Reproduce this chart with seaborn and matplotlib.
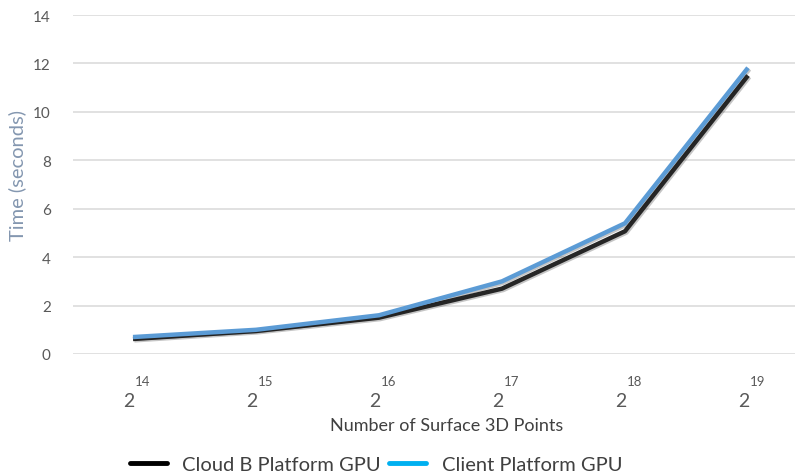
import numpy as np
import pandas as pd
import matplotlib
matplotlib.use("Agg")
import matplotlib.pyplot as plt
import matplotlib.patheffects as pe
import seaborn as sns

# --- data ---
exponents = [14, 15, 16, 17, 18, 19]
cloud_b = [0.62, 0.95, 1.50, 2.70, 5.07, 11.50]
client = [0.70, 1.00, 1.60, 3.00, 5.40, 11.82]
series_names = ["Cloud B Platform GPU", "Client Platform GPU"]
line_colors = {"Cloud B Platform GPU": "#262626", "Client Platform GPU": "#5b9bd5"}
legend_colors = {"Cloud B Platform GPU": "#000000", "Client Platform GPU": "#00b0f0"}
yticks = [0, 2, 4, 6, 8, 10, 12, 14]

df = pd.DataFrame({
    "pos": list(range(len(exponents))) * 2,
    "time": cloud_b + client,
    "series": [series_names[0]] * len(exponents) + [series_names[1]] * len(exponents),
})

sns.set_theme(style="white")
plt.rcParams["font.family"] = ["Lato", "DejaVu Sans"]

W, H = 797, 477
fig = plt.figure(figsize=(W / 100, H / 100), dpi=100)
ax = fig.add_axes([73 / W, 1 - 355 / H, (795 - 73) / W, (355 - 16) / H])

sns.lineplot(data=df, x="pos", y="time", hue="series", palette=line_colors,
             lw=3.2, ax=ax, legend=False, sort=False)
for ln in ax.get_lines():
    ln.set_path_effects([pe.SimpleLineShadow(offset=(1, -1), alpha=0.25),
                         pe.Normal()])
    ln.set_solid_capstyle("butt")

# category spacing ~123 px, first point at x=133
ax.set_xlim(-60 / 123, 5 + 47 / 123)
ax.set_ylim(0, 14)
ax.set_yticks(yticks)
ax.grid(axis="y", color="#d9d9d9", lw=1.1)
ax.set_axisbelow(True)
for s in ax.spines.values():
    s.set_visible(False)
ax.tick_params(axis="y", length=0, pad=16, labelsize=11, labelcolor="#595959")
ax.set_xticks([])
ax.set_xlabel("")
ax.set_ylabel("Time (seconds)", fontsize=14.5, color="#8497b0")
ax.yaxis.set_label_coords(-47 / (795 - 73), 0.53)

# x tick labels: "2" with a raised exponent
tr = ax.get_xaxis_transform()
for i, e in enumerate(exponents):
    ax.text(i - 4 / 123, -38 / 339, "2", transform=tr, ha="center", va="top",
            fontsize=14, color="#595959", clip_on=False)
    ax.text(i + 10 / 123, -21 / 339, str(e), transform=tr, ha="center", va="top",
            fontsize=9.5, color="#595959", clip_on=False)

fig.text(447 / W, 1 - 426 / H, "Number of Surface 3D Points", ha="center",
         va="center", fontsize=13, color="#404040")

# legend drawn as a row under the axis label
handles = [plt.Line2D([], [], color=legend_colors[n], lw=3.5) for n in series_names]
fig.legend(handles, series_names, loc="center left", bbox_to_anchor=(112 / W, 1 - 465 / H),
           ncol=2, frameon=False, fontsize=14.5, handlelength=1.85, handletextpad=0.75,
           columnspacing=0.4, labelcolor="#404040")

fig.savefig("out.png", dpi=100)
